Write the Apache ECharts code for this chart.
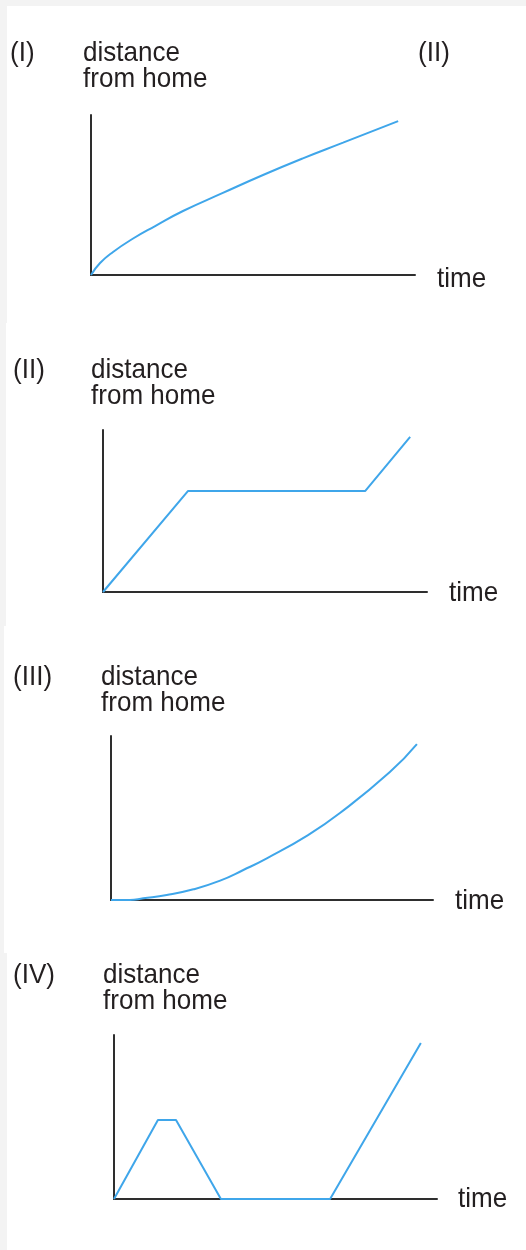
<!DOCTYPE html>
<html>
<head>
<meta charset="utf-8">
<script src="https://cdn.jsdelivr.net/npm/echarts@6/dist/echarts.min.js"></script>
<style>
  html, body { margin: 0; padding: 0; background: #f3f3f3; }
  #main { width: 526px; height: 1250px; }
</style>
</head>
<body>
<div id="main"></div>
<script>
// panel labels
var panelNames = ['(I)', '(II)', '(III)', '(IV)'];
var yName = 'distance\nfrom home';
var xName = 'time';

// [time, distance] (arbitrary 0..10 units)
var curve1 = [[0, 0], [0.28, 0.75], [0.68, 1.44], [1.3, 2.28], [1.98, 3.06], [2.84, 4.0],
  [4.07, 5.13], [5.31, 6.25], [6.54, 7.29], [7.78, 8.27], [9.48, 9.62]];
var curve2 = [[0, 0], [2.62, 6.23], [8.09, 6.23], [9.48, 9.57]];
var curve3 = [[0, 0], [0.59, 0], [1.0, 0.1], [1.73, 0.3], [2.56, 0.65], [3.39, 1.18],
  [4.11, 1.83], [4.84, 2.54], [6.12, 3.96], [7.11, 5.3], [8.66, 7.8], [9.5, 9.51]];
var curve4 = [[0, 0], [1.36, 4.82], [1.92, 4.82], [3.31, 0], [6.69, 0], [9.5, 9.51]];

var curves = [curve1, curve2, curve3, curve4];
var smoothFlags = [true, false, true, false];

// layout of each panel
var grids = [
  { left: 91, top: 115, width: 324, height: 160 },
  { left: 103, top: 430, width: 324, height: 162 },
  { left: 111, top: 736, width: 322, height: 164 },
  { left: 114, top: 1035, width: 323, height: 164 }
];
var panelBoxes = [[7, 6, 519, 317], [6, 323, 520, 303], [4, 626, 522, 327], [7, 953, 519, 297]];
var labelPos = [
  { tag: [10, 40], dist: [83, 40], time: [437, 266] },
  { tag: [13, 357], dist: [91, 357], time: [449, 580] },
  { tag: [13, 664], dist: [101, 664], time: [455, 888] },
  { tag: [13, 962], dist: [103, 962], time: [458, 1186] }
];

var chart = echarts.init(document.getElementById('main'), null, { renderer: 'canvas' });

var font = '"Liberation Sans", Arial, Helvetica, sans-serif';
var textColor = '#231f20';
var axisColor = '#2e2e2e';
var lineColor = '#3fa6ea';

function txt(str, pos) {
  return {
    type: 'text',
    x: pos[0],
    y: pos[1],
    scaleX: 0.93,
    z: 10,
    style: {
      text: str,
      fill: textColor,
      font: '28px ' + font,
      lineHeight: 26,
      verticalAlign: 'top',
      align: 'left'
    }
  };
}

var graphic = [];
panelBoxes.forEach(function (b) {
  graphic.push({
    type: 'rect',
    z: -10,
    shape: { x: b[0], y: b[1], width: b[2], height: b[3] },
    style: { fill: '#ffffff' }
  });
});
labelPos.forEach(function (p, i) {
  graphic.push(txt(panelNames[i], p.tag));
  graphic.push(txt(yName, p.dist));
  graphic.push(txt(xName, p.time));
});
// stray "(II)" printed at the top right of the first panel
graphic.push(txt(panelNames[1], [418, 40]));

var xAxes = [], yAxes = [], series = [];
grids.forEach(function (g, i) {
  var axisCommon = {
    type: 'value',
    gridIndex: i,
    min: 0,
    max: 10,
    axisLine: { show: true, onZero: false, lineStyle: { color: axisColor, width: 2 } },
    axisTick: { show: false },
    axisLabel: { show: false },
    splitLine: { show: false }
  };
  xAxes.push(Object.assign({}, axisCommon));
  yAxes.push(Object.assign({}, axisCommon));
  series.push({
    type: 'line',
    xAxisIndex: i,
    yAxisIndex: i,
    data: curves[i],
    smooth: smoothFlags[i] ? 0.5 : false,
    symbol: 'none',
    z: 5,
    lineStyle: { color: lineColor, width: 2 },
    animation: false
  });
});

chart.setOption({
  backgroundColor: '#f3f3f3',
  animation: false,
  grid: grids.map(function (g) { return Object.assign({ containLabel: false }, g); }),
  xAxis: xAxes,
  yAxis: yAxes,
  graphic: graphic,
  series: series
});
</script>
</body>
</html>
